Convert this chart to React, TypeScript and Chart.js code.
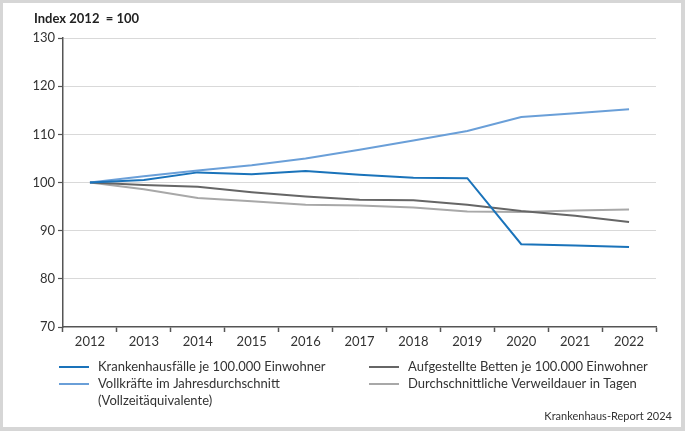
import React, { useEffect, useRef } from "react";
import { Chart, registerables } from "chart.js";

Chart.register(...registerables);

const years = ["2012", "2013", "2014", "2015", "2016", "2017", "2018", "2019", "2020", "2021", "2022"];
const krankenhausfaelle = [100, 100.5, 102.1, 101.7, 102.4, 101.6, 101.0, 100.9, 87.2, 86.9, 86.6];
const vollkraefte = [100, 101.3, 102.5, 103.6, 105.0, 106.8, 108.7, 110.7, 113.6, 114.4, 115.2];
const betten = [100, 99.5, 99.1, 98.0, 97.1, 96.4, 96.3, 95.4, 94.1, 93.1, 91.8];
const verweildauer = [100, 98.6, 96.8, 96.1, 95.4, 95.2, 94.8, 94.0, 93.9, 94.2, 94.4];
const seriesLabels = [
  "Krankenhausfälle je 100.000 Einwohner",
  "Vollkräfte im Jahresdurchschnitt\n(Vollzeitäquivalente)",
  "Aufgestellte Betten je 100.000 Einwohner",
  "Durchschnittliche Verweildauer in Tagen",
];
const seriesColors = ["#1a73ba", "#6a9fd8", "#666666", "#a8a8a8"];
const yTicks = [70, 80, 90, 100, 110, 120, 130];
const titleText = "Index 2012  = 100";
const sourceText = "Krankenhaus-Report 2024";

const FONT = "Lato, 'Noto Sans', sans-serif";

const overlayPlugin = {
  id: "overlay",
  afterDraw(chart: any) {
    const ctx = chart.ctx as CanvasRenderingContext2D;
    ctx.save();
    // title
    ctx.fillStyle = "#222";
    ctx.font = `bold 13px ${FONT}`;
    ctx.textBaseline = "middle";
    ctx.textAlign = "left";
    ctx.fillText(titleText, 34, 19);
    // legend
    const positions = [
      { x: 59, y: 367 },
      { x: 59, y: 384 },
      { x: 369, y: 367 },
      { x: 369, y: 384 },
    ];
    ctx.font = `13px ${FONT}`;
    chart.data.datasets.forEach((ds: any, i: number) => {
      const p = positions[i];
      ctx.strokeStyle = ds.borderColor;
      ctx.lineWidth = 2;
      ctx.beginPath();
      ctx.moveTo(p.x, p.y);
      ctx.lineTo(p.x + 30, p.y);
      ctx.stroke();
      ctx.fillStyle = "#333";
      const lines = String(ds.label).split("\n");
      lines.forEach((ln, j) => ctx.fillText(ln, p.x + 39, p.y + j * 17));
    });
    // source
    ctx.font = `11px ${FONT}`;
    ctx.textAlign = "right";
    ctx.fillStyle = "#333";
    ctx.fillText(sourceText, 672, 416);
    ctx.restore();
  },
};

export default function App() {
  const ref = useRef<HTMLCanvasElement | null>(null);
  useEffect(() => {
    if (!ref.current) return;
    const data = [krankenhausfaelle, vollkraefte, betten, verweildauer];
    const chart = new Chart(ref.current, {
      type: "line",
      data: {
        labels: years,
        datasets: data.map((d, i) => ({
          label: seriesLabels[i],
          data: d,
          borderColor: seriesColors[i],
          backgroundColor: seriesColors[i],
          borderWidth: 2,
          pointRadius: 0,
          tension: 0,
          fill: false,
        })),
      },
      options: {
        animation: false,
        responsive: false,
        devicePixelRatio: 1,
        layout: { padding: { left: 0, right: 29, top: 38, bottom: 80 } },
        plugins: { legend: { display: false }, title: { display: false }, tooltip: { enabled: false } },
        scales: {
          x: {
            type: "category",
            offset: true,
            grid: {
              offset: true,
              drawOnChartArea: false,
              drawTicks: true,
              tickLength: 5,
              tickColor: "#555",
              tickWidth: 1.5,
            },
            border: { display: true, color: "#555", width: 1.5 },
            ticks: { color: "#333", font: { family: FONT, size: 13 }, padding: 2, maxRotation: 0, autoSkip: false },
            afterFit(scale: any) {
              scale.height = 24;
            },
          },
          y: {
            min: 70,
            max: 130,
            afterBuildTicks(scale: any) {
              scale.ticks = yTicks.map((v) => ({ value: v }));
            },
            grid: {
              color: (c: any) => (c.tick && c.tick.value === 70 ? "rgba(0,0,0,0)" : "#d9d9d9"),
              lineWidth: 1,
              drawTicks: true,
              tickLength: 5,
              tickColor: "#555",
              tickWidth: 1.2,
            },
            border: { display: true, color: "#555", width: 1.5 },
            ticks: { color: "#333", font: { family: FONT, size: 13 }, padding: 3 },
            afterFit(scale: any) {
              scale.width = 63;
            },
          },
        },
      },
      plugins: [overlayPlugin],
    });
    return () => chart.destroy();
  }, []);
  return (
    <div style={{ position: "fixed", left: 0, top: 0, width: 685, height: 431, background: "#d6d6d6" }}>
      <div style={{ position: "absolute", left: 3, top: 3, width: 678, height: 424, background: "#fff" }} />
      <canvas ref={ref} width={685} height={431} style={{ position: "absolute", left: 0, top: 0, width: 685, height: 431 }} />
    </div>
  );
}
